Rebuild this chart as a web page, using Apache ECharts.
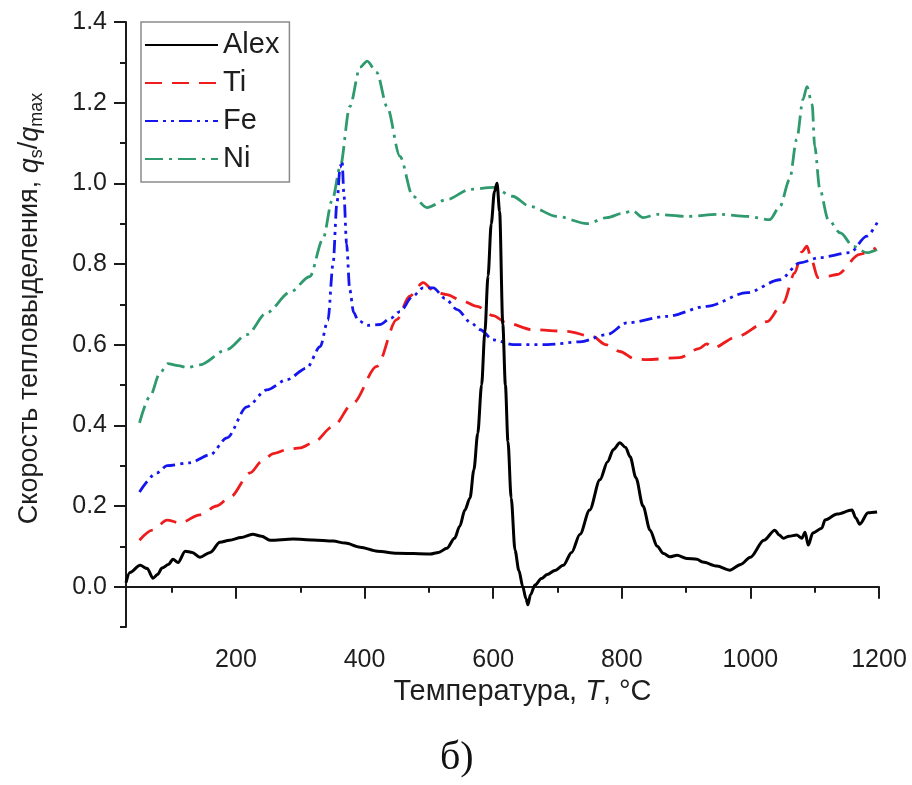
<!DOCTYPE html>
<html><head><meta charset="utf-8">
<script src="https://cdn.jsdelivr.net/npm/echarts@6/dist/echarts.min.js"></script>
<style>html,body{margin:0;padding:0;background:#fff}#c{width:912px;height:785px}</style>
</head><body><div id="c"></div>
<script>
var seriesNames = ['Alex', 'Ti', 'Fe', 'Ni'];
var xMajorTicks = [200, 400, 600, 800, 1000, 1200];
var xMinorTicks = [100, 300, 500, 700, 900, 1100];
var yMajorTicks = [0, 0.2, 0.4, 0.6, 0.8, 1.0, 1.2, 1.4];
var yMinorTicks = [-0.1, 0.1, 0.3, 0.5, 0.7, 0.9, 1.1, 1.3];

var alexData = [[29,0.01],[35,0.035],[51,0.053],[62,0.045],[71,0.021],[78,0.03],[85,0.046],[95,0.055],[102,0.068],[110,0.06],[121,0.088],[132,0.085],[144,0.073],[160,0.085],[175,0.11],[190,0.115],[208,0.122],[226,0.13],[240,0.125],[253,0.115],[289,0.118],[320,0.116],[351,0.113],[370,0.108],[393,0.098],[420,0.088],[450,0.083],[502,0.081],[515,0.085],[528,0.095],[540,0.12],[548,0.15],[556,0.19],[564,0.22],[570,0.29],[576,0.38],[582,0.5],[587,0.63],[592,0.77],[597,0.9],[602,0.98],[606,1.0],[610,0.93],[615,0.65],[619,0.5],[623,0.36],[628,0.22],[634,0.09],[640,0.04],[646,0.0],[651,-0.03],[654,-0.045],[658,-0.02],[665,0.004],[675,0.02],[684,0.03],[696,0.04],[709,0.053],[722,0.085],[735,0.13],[750,0.19],[766,0.265],[778,0.31],[787,0.34],[797,0.357],[806,0.345],[813,0.322],[822,0.27],[833,0.2],[844,0.14],[855,0.1],[865,0.082],[875,0.074],[886,0.078],[901,0.07],[917,0.068],[926,0.061],[948,0.051],[968,0.041],[985,0.055],[1000,0.073],[1021,0.115],[1038,0.14],[1045,0.128],[1051,0.12],[1060,0.125],[1072,0.128],[1080,0.12],[1085,0.135],[1090,0.103],[1097,0.133],[1111,0.145],[1116,0.165],[1135,0.18],[1158,0.19],[1164,0.17],[1170,0.155],[1183,0.183],[1197,0.185]];

var tiData = [[50,0.115],[70,0.14],[93,0.165],[113,0.158],[144,0.178],[170,0.2],[191,0.222],[222,0.282],[240,0.31],[258,0.33],[280,0.34],[300,0.344],[320,0.357],[351,0.397],[382,0.455],[419,0.546],[450,0.662],[470,0.72],[491,0.754],[510,0.73],[528,0.724],[550,0.71],[575,0.695],[600,0.672],[621,0.654],[662,0.637],[715,0.633],[755,0.62],[775,0.6],[797,0.583],[820,0.565],[839,0.563],[890,0.568],[920,0.59],[932,0.602],[942,0.592],[979,0.62],[1026,0.657],[1051,0.704],[1069,0.778],[1080,0.83],[1088,0.844],[1095,0.81],[1105,0.766],[1120,0.77],[1135,0.774],[1170,0.824],[1195,0.84]];

var feData = [[50,0.235],[77,0.282],[93,0.3],[128,0.307],[160,0.327],[186,0.369],[217,0.446],[248,0.488],[279,0.513],[310,0.542],[331,0.595],[343,0.66],[351,0.8],[357,0.95],[362,1.04],[365,1.055],[368,0.97],[372,0.85],[377,0.736],[383,0.68],[390,0.66],[405,0.648],[424,0.65],[440,0.665],[455,0.682],[475,0.72],[491,0.741],[507,0.741],[525,0.715],[544,0.687],[565,0.655],[580,0.637],[600,0.612],[631,0.6],[684,0.6],[735,0.607],[777,0.625],[808,0.654],[870,0.67],[932,0.695],[995,0.729],[1046,0.761],[1077,0.803],[1108,0.816],[1155,0.828],[1181,0.869],[1198,0.905]];

var niData = [[50,0.406],[66,0.471],[82,0.53],[94,0.553],[110,0.548],[124,0.543],[144,0.55],[186,0.588],[217,0.625],[248,0.679],[284,0.73],[315,0.769],[335,0.861],[350,0.96],[362,1.04],[377,1.19],[393,1.288],[404,1.303],[419,1.275],[435,1.19],[455,1.067],[475,0.968],[497,0.94],[528,0.96],[564,0.985],[600,0.99],[630,0.968],[657,0.943],[699,0.918],[746,0.9],[777,0.915],[800,0.925],[817,0.932],[833,0.915],[855,0.923],[901,0.918],[953,0.923],[995,0.918],[1030,0.91],[1046,0.943],[1061,1.01],[1072,1.109],[1082,1.209],[1088,1.24],[1096,1.196],[1100,1.092],[1108,0.985],[1121,0.91],[1140,0.877],[1160,0.844],[1181,0.828],[1197,0.836]];

var FONT = '"Liberation Sans", Arial, sans-serif';
var AX = '#1a1a1a';
var TXT = '#1e1e1e';
var chart = echarts.init(document.getElementById('c'), null, {renderer: 'canvas'});

function mkSeries(name, data, color, dash, z, w) {
  return {
    name: name, type: 'line', data: data, symbol: 'none', showSymbol: false,
    smooth: 0.3, smoothMonotone: 'x', z: z, animation: false,
    lineStyle: {color: color, width: w, type: dash},
    itemStyle: {color: color}
  };
}

var option = {
  animation: false,
  backgroundColor: '#fff',
  grid: {left: 126, right: 33, top: 22, bottom: 158, containLabel: false, outerBoundsMode: 'none'},
  legend: {
    orient: 'vertical', left: 141, top: 22,
    data: seriesNames,
    itemWidth: 73, itemHeight: 14, itemGap: 8,
    padding: [8, 10, 8, 3],
    borderColor: '#8a8a8a', borderWidth: 1.5, backgroundColor: '#fff',
    itemStyle: {opacity: 0, borderWidth: 0},
    textStyle: {fontFamily: FONT, fontSize: 29, color: TXT, lineHeight: 30},
    selectedMode: false
  },
  xAxis: [{
    type: 'value', min: 29, max: 1200,
    axisLine: {show: true, lineStyle: {color: AX, width: 2}},
    axisTick: {show: true, customValues: xMajorTicks, length: 12, inside: false, lineStyle: {color: AX, width: 2}},
    axisLabel: {customValues: xMajorTicks, fontFamily: FONT, fontSize: 25, color: TXT, margin: 21,
      formatter: function (v) { return String(v); }},
    splitLine: {show: false},
    name: '{n|Температура, }{i|T}{n|, °C}',
    nameLocation: 'middle', nameGap: 42,
    nameTextStyle: {fontFamily: FONT, fontSize: 29, color: TXT, padding: [0, 0, 0, 40],
      rich: {n: {fontFamily: FONT, fontSize: 29, color: TXT}, i: {fontFamily: FONT, fontSize: 29, fontStyle: 'italic', color: TXT}}}
  }, {
    type: 'value', min: 29, max: 1200, position: 'bottom', gridIndex: 0,
    axisLine: {show: false},
    axisTick: {show: true, customValues: xMinorTicks, length: 6, lineStyle: {color: AX, width: 2}},
    axisLabel: {show: false},
    splitLine: {show: false}
  }],
  yAxis: [{
    type: 'value', min: -0.1, max: 1.4,
    axisLine: {show: true, lineStyle: {color: AX, width: 2}},
    axisTick: {show: true, customValues: yMajorTicks, length: 12, lineStyle: {color: AX, width: 2}},
    axisLabel: {customValues: yMajorTicks, fontFamily: FONT, fontSize: 25, color: TXT, margin: 19,
      formatter: function (v) { return v.toFixed(1); }},
    splitLine: {show: false},
    name: '{n|Скорость тепловыделения, }{i|q}{sub|s}{n|/}{i|q}{sub|max}',
    nameLocation: 'middle', nameRotate: 90, nameGap: 80,
    nameTextStyle: {fontFamily: FONT, fontSize: 27, color: TXT, padding: [0, 0, 0, 32],
      rich: {
        n: {fontFamily: FONT, fontSize: 27, color: TXT, lineHeight: 32},
        i: {fontFamily: FONT, fontSize: 27, fontStyle: 'italic', color: TXT, lineHeight: 32},
        sub: {fontFamily: FONT, fontSize: 18, color: TXT, lineHeight: 32, verticalAlign: 'bottom', padding: [10, 0, 0, 0]}
      }}
  }, {
    type: 'value', min: -0.1, max: 1.4, position: 'left', gridIndex: 0,
    axisLine: {show: false},
    axisTick: {show: true, customValues: yMinorTicks, length: 6, lineStyle: {color: AX, width: 2}},
    axisLabel: {show: false},
    splitLine: {show: false}
  }],
  series: [
    mkSeries('Alex', alexData, '#000000', 'solid', 5, 3),
    mkSeries('Ti', tiData, '#ee1c1c', [17, 10], 3, 2.8),
    mkSeries('Fe', feData, '#1515ee', [13, 5, 3, 5, 3, 5], 3, 2.8),
    mkSeries('Ni', niData, '#2f9a6e', [18, 6, 3, 6], 2, 2.8)
  ],
  graphic: [{
    type: 'text', left: 440, top: 738,
    style: {text: 'б)', font: '40px "Liberation Serif", "DejaVu Serif", serif', fill: '#111'}
  }]
};
chart.setOption(option);
</script>
</body></html>
